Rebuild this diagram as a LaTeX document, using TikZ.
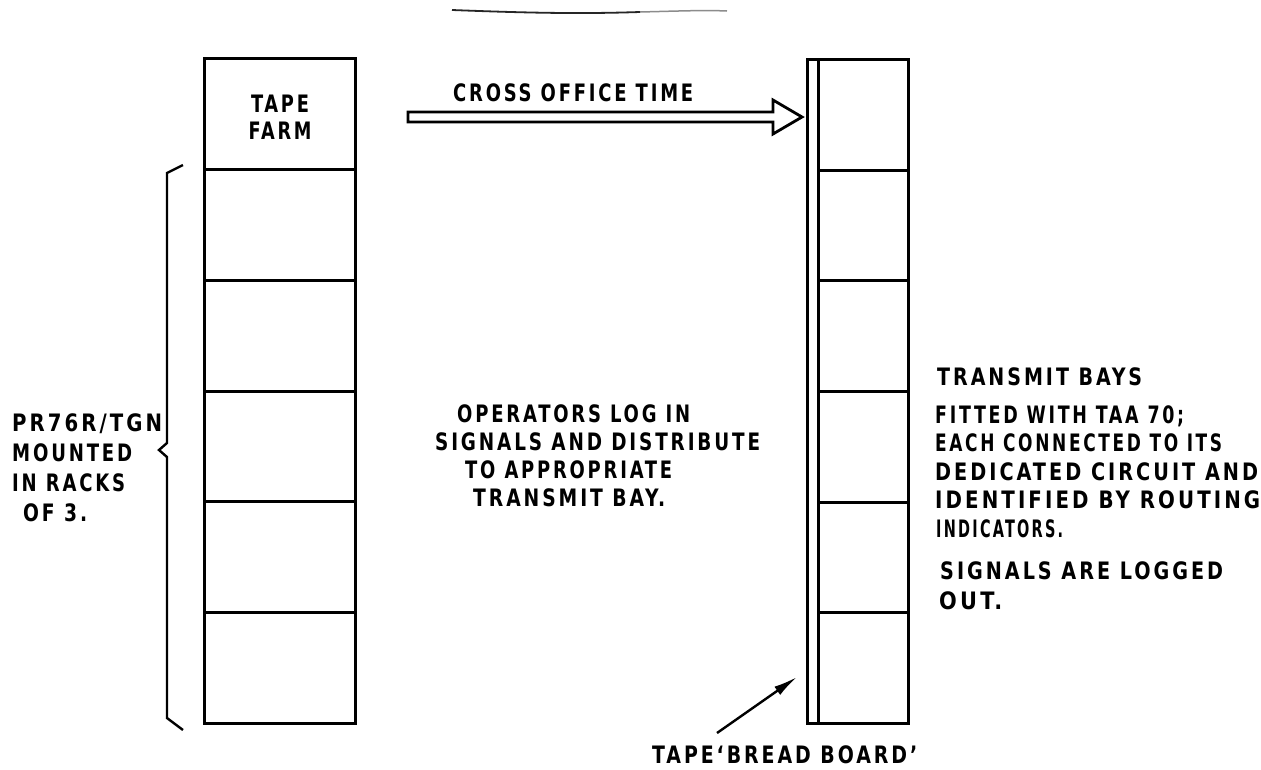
\documentclass[tikz,border=0pt]{standalone}
\usepackage{graphicx}
\usepackage{fontspec}
\setmainfont{DejaVu Sans Condensed}[BoldFont={DejaVu Sans Condensed Bold}, LetterSpace=14]
\usetikzlibrary{arrows.meta}
\newsavebox\fitbox
\newlength\fitlen
\newcommand\fitw[2]{\sbox\fitbox{#2}\setlength\fitlen{\wd\fitbox}\pgfmathsetmacro\fitf{#1/\fitlen}\scalebox{\fitf}[1]{\usebox\fitbox}}
\begin{document}
\begin{tikzpicture}[x=1pt,y=-1pt,
  cell/.style={draw, line width=3pt, inner sep=0pt, outer sep=0pt, minimum width=151pt, minimum height=110.67pt},
  rcell/.style={draw, line width=3pt, inner sep=0pt, outer sep=0pt, minimum width=90pt, minimum height=110.67pt},
  txt/.style={anchor=base west, inner sep=0pt, font=\fontsize{24}{28}\selectfont\bfseries},
  ctxt/.style={anchor=base, inner sep=0pt, font=\fontsize{24}{28}\selectfont\bfseries},
  thin/.style={line width=2.4pt}]
\fill[white] (0,0) rectangle (1261,769);
\useasboundingbox (0,0) rectangle (1261,769);
% top rule
\draw[line width=1.8pt, black!85] (452,10) .. controls (530,13) and (580,14) .. (640,12);
\draw[line width=1.5pt, black!45] (640,12) .. controls (680,11) and (705,10) .. (727,11);
% left column
\foreach \i in {0,...,5}{
  \node[cell] (l\i) at (279.5,{59+110.67*\i+55.33}) {};
}
% right column
\node[draw, line width=3pt, inner sep=0pt, outer sep=0pt, minimum width=11pt, minimum height=664pt] (strip) at (812.5,391.5) {};
\foreach \i in {0,...,5}{
  \node[rcell] (r\i) at (863,{59.5+110.67*\i+55.33}) {};
}
% labels in tape farm
\node[ctxt] (tape) at (280,112) {\fitw{58}{TAPE}};
\node[ctxt] (farm) at (280,139) {\fitw{63}{FARM}};
% cross office arrow
\coordinate (as) at (408,117);
\coordinate (at) at (802,117);
\draw[line width=2.8pt, line join=miter] (as |- 0,112) -- (773,112) -- (773,100) -- (at) -- (773,134) -- (773,122) -- (as |- 0,122) -- cycle;
\node[txt] (cot) at (453,101) {\fitw{240}{CROSS OFFICE TIME}};
% brace
\draw[thin, line join=miter] (183,165) -- (167,173) -- (167,443) -- (159,450) -- (167,457) -- (167,718) -- (183,730);
% left text
\node[txt] (a1) at (12,431) {\fitw{150}{PR76R/TGN}};
\node[txt] (a2) at (12,461) {\fitw{120}{MOUNTED}};
\node[txt] (a3) at (12,491) {\fitw{113}{IN RACKS}};
\node[txt] (a4) at (23,521) {\fitw{64}{OF 3.}};
% centre text
\node[txt] (b1) at (457,422) {\fitw{233}{OPERATORS LOG IN}};
\node[txt] (b2) at (435,450) {\fitw{325}{SIGNALS AND DISTRIBUTE}};
\node[txt] (b3) at (465,478) {\fitw{207}{TO APPROPRIATE}};
\node[txt] (b4) at (473,506) {\fitw{192}{TRANSMIT BAY.}};
% right text
\node[txt] (c0) at (937,385) {\fitw{205}{TRANSMIT BAYS}};
\node[txt] (c1) at (935,423) {\fitw{249}{FITTED WITH TAA 70;}};
\node[txt] (c2) at (935,451) {\fitw{287}{EACH CONNECTED TO ITS}};
\node[txt] (c3) at (935,480) {\fitw{323}{DEDICATED CIRCUIT AND}};
\node[txt] (c4) at (935,508) {\fitw{325}{IDENTIFIED BY ROUTING}};
\node[txt] (c5) at (936,537) {\fitw{127}{INDICATORS.}};
\node[txt] (c6) at (940,579) {\fitw{283}{SIGNALS ARE LOGGED}};
\node[txt] (c7) at (939,609) {\fitw{63}{OUT.}};
% bread board label and arrow
\node[txt] (bb) at (652,763) {\fitw{265}{TAPE‘BREAD BOARD’}};
\coordinate (bbs) at (717,733);
\coordinate (bbe) at (797,677);
\draw[thin, -{Latex[length=24pt,width=10pt]}] (bbs) -- (bbe);
\end{tikzpicture}
\end{document}
